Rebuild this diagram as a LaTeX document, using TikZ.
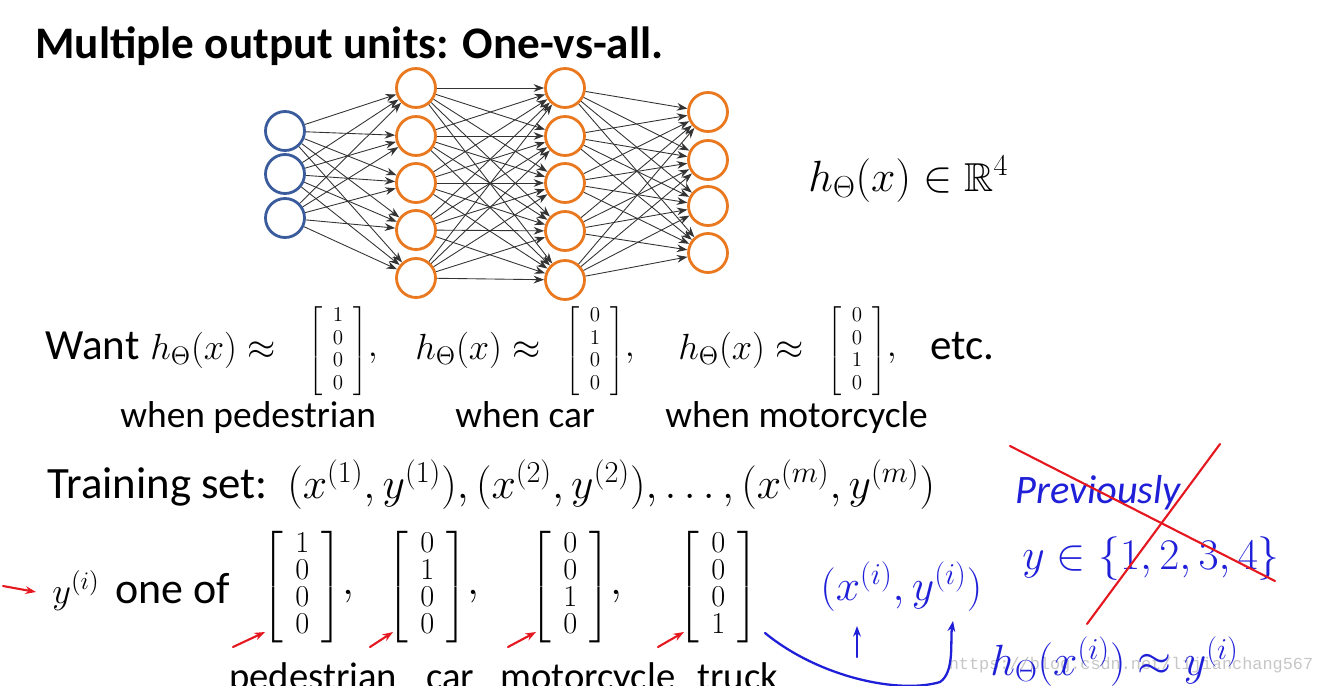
\documentclass[tikz,border=0pt]{standalone}
\usepackage{amsmath, amssymb}
\usepackage{fontspec}
\setmainfont{Carlito}
\newfontfamily\wmfont{Liberation Mono}
\usetikzlibrary{arrows.meta, positioning}

\definecolor{inblue}{HTML}{3B5C9C}
\definecolor{hidorange}{HTML}{E9781F}
\definecolor{penblue}{HTML}{1F1FD8}
\definecolor{penred}{HTML}{E5171F}

\newcommand{\fsz}[2]{\fontsize{#1}{#2}\selectfont}
\newcommand{\colvec}[5][5pt]{\setlength{\arraycolsep}{#1}\left[\begin{array}{c}#2\\#3\\#4\\#5\end{array}\right]}

\begin{document}
\begin{tikzpicture}[x=0.02cm, y=-0.02cm, >={Stealth[length=6pt, width=4.4pt]},
		unit/.style={draw, circle, minimum size=0.78cm, inner sep=0pt, line width=1.6pt},
		inunit/.style={unit, draw=inblue},
		hidunit/.style={unit, draw=hidorange},
		wire/.style={->, line width=0.5pt, black!80},
		txt/.style={inner sep=0pt, anchor=base west},
		vec/.style={inner sep=0pt, anchor=west},
		pen/.style={penblue, line width=1.3pt, line cap=round},
		redpen/.style={penred, line width=1.2pt, line cap=round}]
		
		\useasboundingbox (0,0) rectangle (1318,686);
		\clip (0,0) rectangle (1318,686);
		
		% Filigrana
		\node[text=gray!45, font=\wmfont\fsz{9.6}{11}] (wm) at (1131,665) {https://blog.csdn.net/lijianchang567};
		
		% Titolo
		\node[txt, font=\bfseries\fsz{25.7}{30}] (title) at (35,59) {Multiple output units: One-vs-all.};
		
		% Rete neurale
		\foreach \n/\y in {1/131,2/174,3/218}
			\node[inunit] (i\n) at (285,\y) {};
		\foreach \n/\y in {1/88,2/136,3/183,4/230,5/278}
			\node[hidunit] (a\n) at (416,\y) {};
		\foreach \n/\y in {1/88,2/136,3/183,4/231,5/280}
			\node[hidunit] (b\n) at (565,\y) {};
		\foreach \n/\y in {1/112,2/160,3/206,4/253}
			\node[hidunit] (o\n) at (708,\y) {};
		
		\foreach \s in {1,2,3}
			\foreach \t in {1,...,5}
				\draw[wire] (i\s) -- (a\t);
		\foreach \s in {1,...,5}
			\foreach \t in {1,...,5}
				\draw[wire] (a\s) -- (b\t);
		\foreach \s in {1,...,5}
			\foreach \t in {1,...,4}
				\draw[wire] (b\s) -- (o\t);
		
		\node[txt, font=\fsz{23}{27}] (range) at (808,191) {$h_\Theta(x) \in \mathbb{R}^4$};
		
		% Riga "Want"
		\node[txt, font=\fsz{24.5}{29}] (want) at (45,359) {Want};
		\node[txt, font=\fsz{21}{25}] (h1) at (150,359) {$h_\Theta(x) \approx$};
		\node[vec, font=\fsz{12}{12.8}] (vec1) at (308,351) {$\colvec[6pt]{1}{0}{0}{0}$\fsz{21}{25}$,$};
		\node[txt, font=\fsz{21}{25}] (h2) at (415,359) {$h_\Theta(x) \approx$};
		\node[vec, font=\fsz{12}{12.8}] (vec2) at (565,351) {$\colvec[6pt]{0}{1}{0}{0}$\fsz{21}{25}$,$};
		\node[txt, font=\fsz{21}{25}] (h3) at (678,359) {$h_\Theta(x) \approx$};
		\node[vec, font=\fsz{12}{12.8}] (vec3) at (827,351) {$\colvec[6pt]{0}{0}{1}{0}$\fsz{21}{25}$,$};
		\node[txt, font=\fsz{24.5}{29}] (etc) at (930,359) {etc.};
		
		\node[txt, font=\fsz{21.3}{25}] (when1) at (120,427) {when pedestrian};
		\node[txt, font=\fsz{21.3}{25}] (when2) at (455,427) {when car};
		\node[txt, font=\fsz{21.3}{25}] (when3) at (665,427) {when motorcycle};
		
		% Training set
		\node[txt, font=\fsz{25.5}{30}] (train) at (47,498) {Training set:};
		\node[txt, font=\fsz{24.4}{29}] (pairs) at (287,498) {$(x^{(1)}, y^{(1)}), (x^{(2)}, y^{(2)}), \ldots, (x^{(m)}, y^{(m)})$};
		
		% y(i) one of
		\node[txt, font=\fsz{22}{26}] (yi) at (52,603) {$y^{(i)}$};
		\node[txt, font=\fsz{25}{30}] (oneof) at (115,603) {one of};
		\node[vec, font=\fsz{17.6}{14.2}] (hot1) at (262,587) {$\colvec[7pt]{1}{0}{0}{0}$\fsz{28}{32}$,$};
		\node[vec, font=\fsz{17.6}{14.2}] (hot2) at (387,587) {$\colvec[7pt]{0}{1}{0}{0}$\fsz{28}{32}$,$};
		\node[vec, font=\fsz{17.6}{14.2}] (hot3) at (530,587) {$\colvec[7pt]{0}{0}{1}{0}$\fsz{28}{32}$,$};
		\node[vec, font=\fsz{17.6}{14.2}] (hot4) at (678,587) {$\colvec[7pt]{0}{0}{0}{1}$};
		
		\node[txt, font=\fsz{22}{26}] (lab1) at (229,689) {pedestrian};
		\node[txt, font=\fsz{22}{26}] (lab2) at (426,689) {car};
		\node[txt, font=\fsz{22}{26}] (lab3) at (500,689) {motorcycle};
		\node[txt, font=\fsz{22}{26}] (lab4) at (697,689) {truck};
		
		% Frecce rosse
		\coordinate (r0) at (3,586);
		\coordinate (r0e) at (36,592);
		\draw[redpen, ->] (r0) -- (r0e);
		\foreach \n/\x/\u in {1/233/265,2/370/393,3/508/536,4/658/684} {
			\coordinate (rs\n) at (\x,647);
			\coordinate (re\n) at (\u,632);
			\draw[redpen, ->] (rs\n) -- (re\n);
		}
		
		% Note a mano
		\node[txt, text=penblue, font=\itshape\fsz{23}{27}] (prev) at (1015,503) {Previously};
		\node[txt, text=penblue, font=\fsz{23}{27}] (classes) at (1022,569) {$y \in \{1,2,3,4\}$};
		\draw[redpen] (1010,446) -- (1275,581);
		\draw[redpen] (1220,444) -- (1087,624);
		
		\node[txt, text=penblue, font=\fsz{23}{27}] (pair) at (820,600) {$(x^{(i)}, y^{(i)})$};
		\node[txt, text=penblue, font=\fsz{24}{28}] (approx) at (990,675) {$h_\Theta(x^{(i)}) \approx y^{(i)}$};
		
		\coordinate (up1) at (857,657);
		\coordinate (up1e) at (857,626);
		\draw[pen, ->] (up1) -- (up1e);
		\coordinate (cs) at (765,633);
		\coordinate (cm) at (940,682);
		\coordinate (ce) at (953,621);
		\draw[pen, ->] (cs) .. controls (820,678) and (900,694) .. (cm) .. controls (955,672) and (950,640) .. (ce);
		
	\end{tikzpicture}
\end{document}
